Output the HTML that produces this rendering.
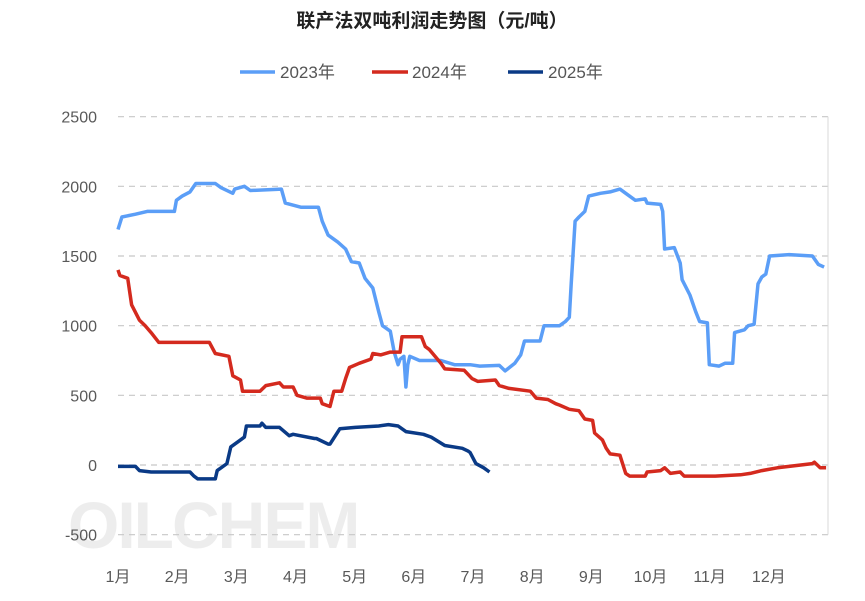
<!DOCTYPE html>
<html><head><meta charset="utf-8">
<style>
body{margin:0;background:#fff;width:865px;height:596px;overflow:hidden;font-family:"Liberation Sans","Noto Sans CJK SC",sans-serif}
</style></head>
<body>
<svg id="chart" width="865" height="596" xmlns="http://www.w3.org/2000/svg" font-family="Liberation Sans, Noto Sans CJK SC, sans-serif">
<text x="432" y="27" text-anchor="middle" font-size="19" font-weight="bold" fill="#222">联产法双吨利润走势图（元/吨）</text>
<g>
<g><line x1="240" y1="72" x2="275" y2="72" stroke="#5B9EF7" stroke-width="3.5"/><text x="280" y="78" font-size="17" fill="#555">2023年</text></g>
<g><line x1="372" y1="72" x2="408" y2="72" stroke="#D42A1E" stroke-width="3.5"/><text x="412" y="78" font-size="17" fill="#555">2024年</text></g>
<g><line x1="508" y1="72" x2="543" y2="72" stroke="#0A3A86" stroke-width="3.5"/><text x="548" y="78" font-size="17" fill="#555">2025年</text></g>
</g>
<text x="68" y="548" font-size="66" font-weight="bold" fill="#000" fill-opacity="0.07" letter-spacing="-2">OILCHEM</text>
<g id="grid"></g><g id="yaxis"></g><g id="xaxis"></g><g id="series"></g>
</svg>
<script>
const yTicks=[-500,0,500,1000,1500,2000,2500];
const months=["1月","2月","3月","4月","5月","6月","7月","8月","9月","10月","11月","12月"];
const days2023=[0,2,9,15,29,30,33,37,40,50,53,59,60,65,68,84,86,94,103,105,108,113,117,120,124,127,131,134,136,140,142,144,145,147,148,149,150,155,166,173,181,186,196,199,204,207,209,217,219,227,230,232,233,235,237,240,242,248,253,258,262,266,271,272,279,280,281,286,289,290,294,297,299,303,304,309,312,316,317,322,324,327,329,331,333,335,345,357,360,363];
const vals2023=[1690,1780,1800,1820,1820,1900,1930,1960,2020,2020,1990,1950,1980,2000,1970,1980,1880,1850,1850,1750,1650,1600,1550,1460,1450,1340,1270,1100,1000,960,810,720,760,780,560,720,780,750,750,720,720,710,715,675,730,790,890,890,1000,1000,1030,1060,1300,1750,1780,1820,1930,1950,1960,1980,1940,1900,1910,1880,1870,1820,1550,1560,1450,1330,1220,1100,1030,1020,720,710,730,730,950,970,1000,1010,1300,1350,1370,1500,1510,1500,1440,1420];
const days2024=[0,1,5,7,11,14,17,21,47,50,57,59,63,64,73,76,83,85,90,92,97,104,105,109,111,115,117,119,124,130,131,135,140,145,146,156,158,160,166,168,178,182,185,194,196,201,212,215,221,225,227,232,237,240,244,245,249,251,253,258,261,263,271,272,279,281,284,289,291,307,320,325,331,339,351,357,358,361,364];
const vals2024=[1400,1360,1340,1150,1040,1000,950,880,880,800,780,640,610,530,530,570,590,560,560,500,480,480,440,420,530,530,620,700,730,760,800,790,810,810,920,920,850,830,730,690,680,620,600,610,570,550,530,480,470,440,430,400,390,330,320,230,180,120,80,70,-60,-80,-80,-50,-40,-20,-60,-50,-80,-80,-70,-60,-40,-20,0,10,20,-20,-20];
const days2025=[0,9,11,17,37,39,41,44,50,51,55,56,58,62,65,66,73,74,76,83,88,90,101,102,108,109,114,122,134,139,144,148,157,161,168,177,180,181,184,188,191];
const vals2025=[-10,-10,-40,-50,-50,-80,-100,-100,-100,-40,0,10,130,170,200,280,280,300,270,270,210,220,190,190,150,150,260,270,280,290,280,240,220,200,140,120,100,90,10,-20,-50];

const X0=118,X1=828,Y0=465,PX=418/3000;
const xDay=d=>X0+d/365*(X1-X0);
const xMonth=m=>X0+m*(X1-X0)/12;
const yv=v=>Y0-v*PX;
const NS="http://www.w3.org/2000/svg";
const grid=document.getElementById('grid'),ya=document.getElementById('yaxis'),xa=document.getElementById('xaxis'),sg=document.getElementById('series');
yTicks.forEach(t=>{
  const l=document.createElementNS(NS,'line');
  l.setAttribute('x1',X0);l.setAttribute('x2',X1);l.setAttribute('y1',yv(t));l.setAttribute('y2',yv(t));
  l.setAttribute('stroke','#c8c8c8');l.setAttribute('stroke-dasharray','6,5');l.setAttribute('stroke-width','1.2');
  
  
  grid.appendChild(l);
  const tx=document.createElementNS(NS,'text');
  tx.setAttribute('x',97);tx.setAttribute('y',yv(t)+6);tx.setAttribute('text-anchor','end');tx.setAttribute('font-size','16');tx.setAttribute('fill','#595959');
  tx.textContent=t;
  
  
  ya.appendChild(tx);
});
const ax=document.createElementNS(NS,'line');
ax.setAttribute('x1',X1);ax.setAttribute('x2',X1);ax.setAttribute('y1',yv(2500));ax.setAttribute('y2',yv(-500));ax.setAttribute('stroke','#d9d9d9');


xa.appendChild(ax);
months.forEach((m,i)=>{
  const tx=document.createElementNS(NS,'text');
  tx.setAttribute('x',xMonth(i));tx.setAttribute('y',582);tx.setAttribute('text-anchor','middle');tx.setAttribute('font-size','16');tx.setAttribute('fill','#595959');
  tx.textContent=m;
  
  
  xa.appendChild(tx);
});
function draw(days,vals,color,name){
  const p=document.createElementNS(NS,'polyline');
  p.setAttribute('points',days.map((d,i)=>xDay(d).toFixed(1)+','+yv(vals[i]).toFixed(1)).join(' '));
  p.setAttribute('fill','none');p.setAttribute('stroke',color);p.setAttribute('stroke-width','3.5');p.setAttribute('stroke-linejoin','round');
  
  
  sg.appendChild(p);
}
draw(days2023,vals2023,'#5B9EF7','series-2023');
draw(days2024,vals2024,'#D42A1E','series-2024');
draw(days2025,vals2025,'#0A3A86','series-2025');
</script>
</body></html>
